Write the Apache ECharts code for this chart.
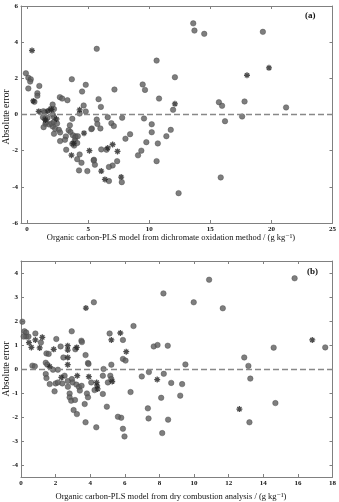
<!DOCTYPE html>
<html>
<head>
<meta charset="utf-8">
<script src="https://cdn.jsdelivr.net/npm/echarts@6/dist/echarts.min.js"></script>
<style>
  html, body { margin: 0; padding: 0; background: #fff; }
  #chart { width: 339px; height: 502px; }
</style>
</head>
<body>
<div id="chart"></div>
<script>
// panel (a): dichromate oxidation method
const xTicksA = [0, 5, 10, 15, 20, 25];
const yTicksA = [-6, -4, -2, 0, 2, 4, 6];
const circlesA = [
  [-0.1, 2.28], [0.1, 2.03], [0.3, 1.95], [0.25, 1.82], [0.1, 1.44], [1.0, 1.58], [0.84, 1.18], [0.84, 1.03],
  [0.6, 0.70], [1.33, 0.18], [1.45, 0.12], [2.09, 0.55], [1.93, 0.31], [2.2, 0.3], [2.68, 0.96], [2.87, 0.88],
  [3.3, 0.79], [3.66, 1.95], [4.5, 1.27], [4.8, 1.64], [4.63, 0.5], [4.8, 0.17], [5.7, 3.63], [5.85, 0.85],
  [6.04, 0.42], [7.15, 1.38], [5.7, -0.28], [5.75, -0.52], [6.6, -0.15], [6.9, -0.48], [7.1, -0.64], [7.78, -0.18],
  [6.0, -0.77], [9.46, 1.66], [9.65, 1.36], [10.6, 2.98], [10.8, 0.88], [9.57, -0.22], [10.2, -0.54], [13.6, 5.04],
  [13.7, 4.64], [14.5, 4.46], [19.3, 4.57], [12.1, 2.06], [11.95, 0.26], [15.7, 0.68], [15.96, 0.48], [17.8, 0.72],
  [17.6, -0.11], [21.2, 0.39], [16.2, -0.37], [11.76, -0.85], [15.85, -3.48], [12.4, -4.35], [10.2, -0.98], [11.4, -1.2],
  [10.7, -1.6], [9.76, -1.53], [8.43, -1.09], [8.05, -1.34], [9.35, -2.0], [9.08, -2.26], [10.6, -2.58], [6.07, -1.93],
  [6.5, -1.95], [7.37, -2.58], [7.0, -2.82], [6.7, -2.9], [6.7, -3.68], [7.75, -3.74], [5.47, -2.5], [5.55, -2.78],
  [4.93, -3.13], [4.25, -3.09], [4.3, -2.21], [4.1, -2.47], [4.45, -2.67], [3.2, -1.95], [2.7, -1.47], [3.17, -1.21],
  [3.96, -1.2], [5.3, -0.77], [2.2, -1.07], [1.5, -0.52], [1.8, -0.55], [2.1, -0.66], [2.3, -0.79], [1.3, -0.15],
  [1.46, -0.24], [1.68, -0.18], [2.1, 0.0], [2.2, -0.15], [1.55, -0.42], [2.0, -0.5], [2.2, -0.42], [1.35, -0.7],
  [2.6, -0.85], [2.7, -0.99], [2.45, -0.5], [3.7, -0.24], [3.5, -0.6], [3.4, -0.87], [3.55, -0.97], [3.75, -1.15],
  [3.95, -1.28], [4.15, -1.2], [3.9, -1.45], [3.7, -1.62], [3.85, -1.72], [4.1, -1.58], [3.1, -1.4], [4.3, 0.05],
  [5.26, -0.81], [5.45, -2.54]
];
const starsA = [
  [0.4, 3.54], [0.5, 0.75], [0.95, 0.17], [1.7, 0.2], [2.0, 0.28], [4.3, 0.26], [4.66, -1.03], [3.63, -2.25],
  [3.8, -1.6], [6.6, -1.85], [7.0, -1.66], [7.4, -2.04], [6.07, -3.13], [6.37, -3.59], [7.7, -3.46], [12.1, 0.59],
  [18.0, 2.17], [19.8, 2.58], [1.5, -0.3], [2.4, -0.25], [5.1, -2.0]
];

// panel (b): dry combustion analysis
const xTicksB = [0, 2, 4, 6, 8, 10, 12, 14, 16, 18];
const yTicksB = [-4, -3, -2, -1, 0, 1, 2, 3, 4];
const circlesB = [
  [0.08, 1.97], [0.2, 1.57], [0.3, 1.52], [0.3, 1.35], [0.43, 1.35], [0.15, 1.35], [0.83, 1.48], [1.15, 1.1],
  [0.66, 0.14], [0.8, 0.11], [1.47, 0.65], [1.6, 0.63], [1.43, 0.26], [1.52, 0.18], [2.04, 1.25], [2.29, 0.94],
  [2.45, 0.48], [2.93, 1.57], [3.14, 0.82], [3.49, 1.18], [3.52, 1.12], [4.21, 2.78], [3.73, 0.58], [3.87, 0.25],
  [3.9, 0.21], [4.77, 0.0], [5.12, 1.48], [5.22, 0.18], [5.89, 1.21], [5.89, 0.42], [6.04, 0.35], [6.5, 1.79],
  [6.98, -0.31], [7.39, -0.13], [7.67, 0.94], [7.89, 1.0], [8.23, 3.15], [8.48, 0.97], [8.25, -0.2], [9.5, 0.19],
  [9.98, 2.78], [10.87, 3.72], [11.66, 2.53], [12.9, 0.48], [13.14, 0.13], [13.25, -0.4], [14.6, 0.89], [15.81, 3.78],
  [17.58, 0.9], [8.68, -0.58], [9.31, -0.63], [6.33, -0.96], [8.1, -1.2], [9.2, -1.11], [7.33, -1.64], [7.37, -2.06],
  [8.5, -2.11], [8.16, -2.67], [5.79, -2.03], [5.89, -2.49], [5.98, -2.81], [13.2, -2.22], [14.7, -1.42], [1.43, -0.21],
  [1.47, -0.38], [1.66, -0.63], [1.94, -0.93], [2.0, -0.6], [2.13, -0.56], [2.52, -0.28], [2.39, -0.6], [2.71, -0.74],
  [2.81, -1.02], [2.81, -1.18], [2.9, -1.32], [2.94, -0.42], [2.98, -0.56], [3.04, -1.71], [3.23, -1.88], [3.12, -1.29],
  [3.2, -0.65], [3.35, -0.75], [3.5, -0.7], [3.68, -1.46], [3.73, -2.22], [3.81, -1.02], [3.87, -1.18], [4.06, -0.56],
  [4.25, -0.88], [4.35, -2.43], [4.73, -0.28], [4.73, -1.04], [4.96, -1.57], [5.02, -0.56], [5.16, -0.28], [5.22, -0.42],
  [5.6, -1.99], [1.85, -0.03], [2.13, -0.03], [2.7, -0.5], [3.4, -0.9]
];
const starsB = [
  [0.46, 1.1], [0.6, 0.9], [0.83, 1.21], [1.08, 0.88], [1.23, 1.32], [1.89, 0.82], [2.7, 0.97], [2.7, 0.79],
  [2.7, 0.48], [2.7, 0.18], [3.22, 0.9], [3.75, 2.54], [5.22, 1.21], [5.74, 1.5], [6.08, 0.72], [7.87, -0.44],
  [12.62, -1.67], [16.83, 1.21], [1.66, 0.1], [2.33, -0.35], [3.25, -0.28], [3.92, -0.32], [4.37, -0.56], [4.4, -0.7],
  [4.43, -0.83], [5.27, -0.52]
];

const FONT = '"Liberation Serif", "DejaVu Serif", serif';
const FRAME = '#808080';
const STAR = 'path://M0,-10L0,10M-10,0L10,0M-7,-7L7,7M-7,7L7,-7';

function xAxisOf(grid, pos, min, max, ticks) {
  return {
    type: 'value', gridIndex: grid, position: pos, min: min, max: max,
    axisLine: { show: true, onZero: false, lineStyle: { color: FRAME, width: 1 } },
    axisTick: { show: true, inside: true, length: 3, customValues: ticks, lineStyle: { color: FRAME } },
    axisLabel: { show: pos === 'bottom', customValues: ticks, margin: 3, fontFamily: FONT, fontSize: 7, fontWeight: 'bold', color: '#111' },
    splitLine: { show: false }
  };
}

function yAxisOf(grid, pos, min, max, ticks) {
  return {
    type: 'value', gridIndex: grid, position: pos, min: min, max: max,
    axisLine: { show: true, onZero: false, lineStyle: { color: FRAME, width: 1 } },
    axisTick: { show: true, inside: true, length: 3, customValues: ticks, lineStyle: { color: FRAME } },
    axisLabel: { show: pos === 'left', customValues: ticks, margin: 3, fontFamily: FONT, fontSize: 7, fontWeight: 'bold', color: '#111' },
    splitLine: { show: false }
  };
}

function dots(data, xi, yi) {
  return {
    type: 'scatter', xAxisIndex: xi, yAxisIndex: yi, data: data,
    symbol: 'circle', symbolSize: 5.5,
    itemStyle: { color: '#5e5e5e', borderColor: '#444', borderWidth: 0.5 },
    markLine: {
      silent: true, symbol: 'none', animation: false,
      label: { show: false },
      lineStyle: { color: '#888', type: [6, 3], width: 1.3 },
      data: [{ yAxis: 0 }]
    }
  };
}

function stars(data, xi, yi) {
  return {
    type: 'scatter', xAxisIndex: xi, yAxisIndex: yi, data: data,
    symbol: STAR, symbolSize: 6,
    itemStyle: { color: '#222', borderColor: '#222', borderWidth: 1.3 }
  };
}

function title(text, x, y, rot, size) {
  return {
    type: 'text', x: x, y: y, rotation: rot,
    style: { text: text, font: size + 'px ' + FONT, fill: '#111', align: 'center', verticalAlign: 'middle' }
  };
}

const chart = echarts.init(document.getElementById('chart'));
chart.setOption({
  animation: false,
  backgroundColor: '#fff',
  grid: [
    { left: 21, top: 6, right: 5, height: 217 },
    { left: 21, top: 261, right: 6, height: 216 }
  ],
  xAxis: [
    xAxisOf(0, 'bottom', -0.5, 25, xTicksA),
    xAxisOf(0, 'top', -0.5, 25, xTicksA),
    xAxisOf(1, 'bottom', 0, 18, xTicksB),
    xAxisOf(1, 'top', 0, 18, xTicksB)
  ],
  yAxis: [
    yAxisOf(0, 'left', -6, 6, yTicksA),
    yAxisOf(0, 'right', -6, 6, yTicksA),
    yAxisOf(1, 'left', -4.5, 4.5, yTicksB),
    yAxisOf(1, 'right', -4.5, 4.5, yTicksB)
  ],
  graphic: [
    title('Absolute error', 6, 117, Math.PI / 2, 9.5),
    title('Absolute error', 6, 369, Math.PI / 2, 9.5),
    title('Organic carbon-PLS model from dichromate oxidation method / (g kg⁻¹)', 171, 238, 0, 8.5),
    title('Organic carbon-PLS model from dry combustion analysis / (g kg⁻¹)', 171, 497, 0, 8.5),
    { type: 'text', left: 305, top: 11, style: { text: '(a)', font: 'bold 9px ' + FONT, fill: '#111' } },
    { type: 'text', left: 307, top: 267, style: { text: '(b)', font: 'bold 9px ' + FONT, fill: '#111' } }
  ],
  series: [
    dots(circlesA, 0, 0),
    stars(starsA, 0, 0),
    dots(circlesB, 2, 2),
    stars(starsB, 2, 2)
  ]
});
</script>
</body>
</html>
